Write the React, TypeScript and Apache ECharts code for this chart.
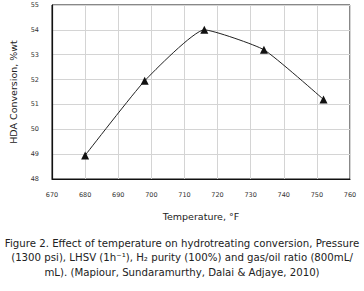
import React, { useEffect, useRef } from "react";
import * as echarts from "echarts";

const temperatures = [680, 698, 716, 734, 752];
const conversions = [48.95, 51.95, 54.0, 53.2, 51.2];
const xTicks = [670, 760, 10];
const yTicks = [48, 55, 1];
const xTitle = "Temperature, °F";
const yTitle = "HDA Conversion, %wt";
const captionLines = [
  "Figure 2. Effect of temperature on hydrotreating conversion, Pressure",
  "(1300 psi), LHSV (1h⁻¹), H₂ purity (100%) and gas/oil ratio (800mL/",
  "mL). (Mapiour, Sundaramurthy, Dalai & Adjaye, 2010)",
];

const FONT = "DejaVu Sans";

export default function App() {
  const ref = useRef<HTMLDivElement>(null);
  useEffect(() => {
    document.body.style.margin = "0";
    const chart = echarts.init(ref.current!, null, { renderer: "svg" });
    const data = temperatures.map((t, i) => [t, conversions[i]]);
    chart.setOption({
      animation: false,
      backgroundColor: "#ffffff",
      grid: {
        left: 46,
        top: 5,
        width: 304,
        height: 174,
        show: true,
        borderColor: "#111",
        borderWidth: 1,
      },
      xAxis: {
        type: "value",
        min: xTicks[0],
        max: xTicks[1],
        interval: xTicks[2],
        axisLine: { show: true, onZero: false, lineStyle: { color: "#111", width: 1.2 } },
        axisTick: { show: false },
        axisLabel: { color: "#333", fontSize: 6.5, fontFamily: FONT, margin: 12 },
        splitLine: { show: true, lineStyle: { color: "#d4d4d4", width: 1 } },
        name: xTitle,
        nameLocation: "middle",
        nameGap: 32,
        nameTextStyle: { color: "#222", fontSize: 9.5, fontFamily: FONT },
      },
      yAxis: {
        type: "value",
        min: yTicks[0],
        max: yTicks[1],
        interval: yTicks[2],
        axisLine: { show: true, onZero: false, lineStyle: { color: "#111", width: 1.2 } },
        axisTick: { show: false },
        axisLabel: { color: "#333", fontSize: 6.5, fontFamily: FONT, margin: 13 },
        splitLine: { show: true, lineStyle: { color: "#d4d4d4", width: 1 } },
        name: yTitle,
        nameLocation: "middle",
        nameGap: 34,
        nameTextStyle: { color: "#222", fontSize: 9.5, fontFamily: FONT },
      },
      series: [
        {
          type: "line",
          data,
          smooth: 0.15,
          symbol: "triangle",
          symbolSize: 8,
          lineStyle: { color: "#222", width: 1 },
          itemStyle: { color: "#111" },
        },
      ],
      graphic: captionLines.map((line, i) => ({
        type: "text",
        x: 182,
        y: 243 + i * 14.5,
        style: {
          text: line,
          fill: "#222",
          fontSize: 10.2,
          fontFamily: FONT,
          align: "center",
          verticalAlign: "middle",
        },
      })),
    });
    return () => chart.dispose();
  }, []);
  return <div ref={ref} style={{ width: 364, height: 291 }} />;
}
